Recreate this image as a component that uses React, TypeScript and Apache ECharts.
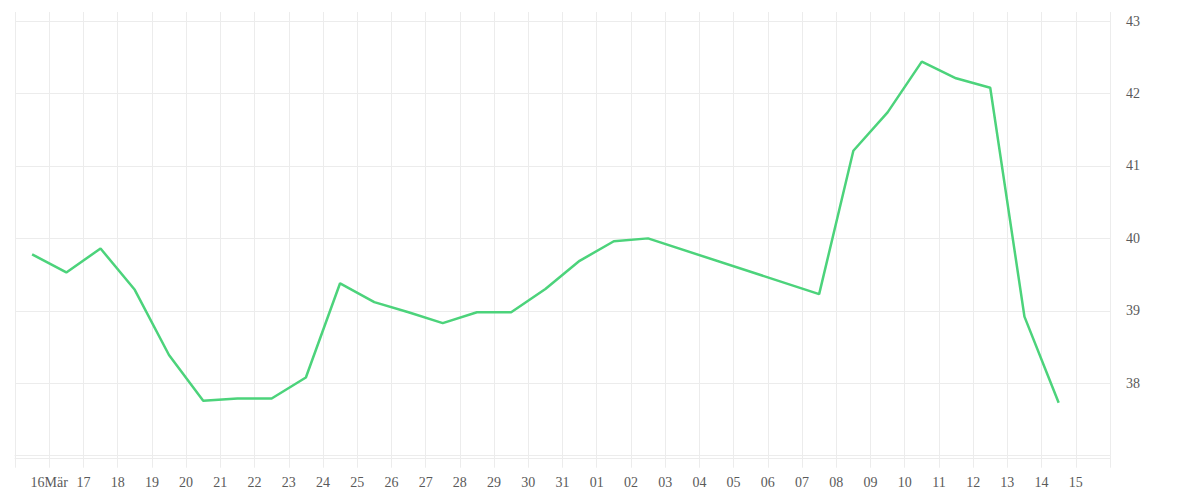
import React, { useEffect, useRef } from "react";
import * as echarts from "echarts";

// Start of the x range (day 0) and tick labels for each day boundary
const startDate = "2015-03-15";
const xTickLabels = [
  "", "16Mär", "17", "18", "19", "20", "21", "22", "23", "24", "25", "26", "27", "28", "29", "30", "31",
  "01", "02", "03", "04", "05", "06", "07", "08", "09", "10", "11", "12", "13", "14", "15", "",
];

const dates = [
  "2015-03-15", "2015-03-16", "2015-03-17", "2015-03-18", "2015-03-19", "2015-03-20", "2015-03-21",
  "2015-03-22", "2015-03-23", "2015-03-24", "2015-03-25", "2015-03-26", "2015-03-27", "2015-03-28",
  "2015-03-29", "2015-03-30", "2015-03-31", "2015-04-01", "2015-04-02", "2015-04-07", "2015-04-08",
  "2015-04-09", "2015-04-10", "2015-04-11", "2015-04-12", "2015-04-13", "2015-04-14",
];

const values = [
  39.78, 39.53, 39.86, 39.29, 38.39, 37.76, 37.79,
  37.79, 38.08, 39.38, 39.12, 38.98, 38.83, 38.98,
  38.98, 39.30, 39.69, 39.96, 40.0, 39.23, 41.21,
  41.74, 42.44, 42.21, 42.08, 38.92, 37.73,
];

const yTicks = [38, 39, 40, 41, 42, 43];

const DAY = 86400000;
function toUtc(s: string): number {
  const [y, m, d] = s.split("-").map(Number);
  return Date.UTC(y, m - 1, d);
}

export default function App() {
  const ref = useRef<HTMLDivElement>(null);

  useEffect(() => {
    if (!ref.current) return;
    const chart = echarts.init(ref.current, undefined, { renderer: "svg" });
    const t0 = toUtc(startDate);
    // points sit at noon of their day
    const seriesData = dates.map((d, i) => [(toUtc(d) - t0) / DAY + 0.5, values[i]]);
    const gridColor = "#ececec";
    const labelFont = {
      fontFamily: "'Liberation Serif', 'DejaVu Serif', serif",
      fontSize: 14,
      color: "#5a5a5a",
    };

    chart.setOption({
      animation: false,
      backgroundColor: "#ffffff",
      grid: { left: 15, right: 90, top: 12, bottom: 44.3, containLabel: false, outerBoundsMode: "none" },
      xAxis: [
        {
          type: "value",
          min: 0,
          max: xTickLabels.length - 1,
          interval: 1,
          axisLine: { show: true, lineStyle: { color: gridColor, width: 1 } },
          axisTick: { show: true, length: 12, lineStyle: { color: gridColor, width: 1 } },
          axisLabel: {
            ...labelFont,
            margin: 20,
            showMinLabel: true,
            showMaxLabel: true,
            formatter: (v: number) => xTickLabels[Math.round(v)] ?? "",
          },
          splitLine: {
            show: true,
            showMinLine: true,
            showMaxLine: true,
            lineStyle: { color: gridColor, width: 1 },
          },
        },
        {
          type: "value",
          min: 0,
          max: xTickLabels.length - 1,
          position: "bottom",
          offset: 3,
          axisLine: { show: true, lineStyle: { color: gridColor, width: 1 } },
          axisTick: { show: false },
          axisLabel: { show: false },
          splitLine: { show: false },
        },
      ],
      yAxis: {
        type: "value",
        position: "right",
        min: 37,
        max: 43.125,
        interval: 1,
        axisLine: { show: false },
        axisTick: { show: false },
        axisLabel: {
          ...labelFont,
          margin: 16,
          padding: [4, 0, 0, 0],
          showMinLabel: true,
          showMaxLabel: true,
          formatter: (v: number) => {
            const r = Math.round(v);
            return Math.abs(v - r) < 1e-6 && yTicks.includes(r) ? String(r) : "";
          },
        },
        splitLine: {
          show: true,
          showMinLine: true,
          showMaxLine: false,
          lineStyle: { color: gridColor, width: 1 },
        },
      },
      series: [
        {
          type: "line",
          xAxisIndex: 0,
          data: seriesData,
          showSymbol: false,
          symbol: "none",
          smooth: false,
          lineStyle: { color: "#4cd37b", width: 2.5 },
          itemStyle: { color: "#4cd37b" },
        },
      ],
    });
    return () => chart.dispose();
  }, []);

  return (
    <div
      ref={ref}
      style={{ position: "absolute", left: 0, top: 0, width: 1200, height: 500 }}
    />
  );
}
